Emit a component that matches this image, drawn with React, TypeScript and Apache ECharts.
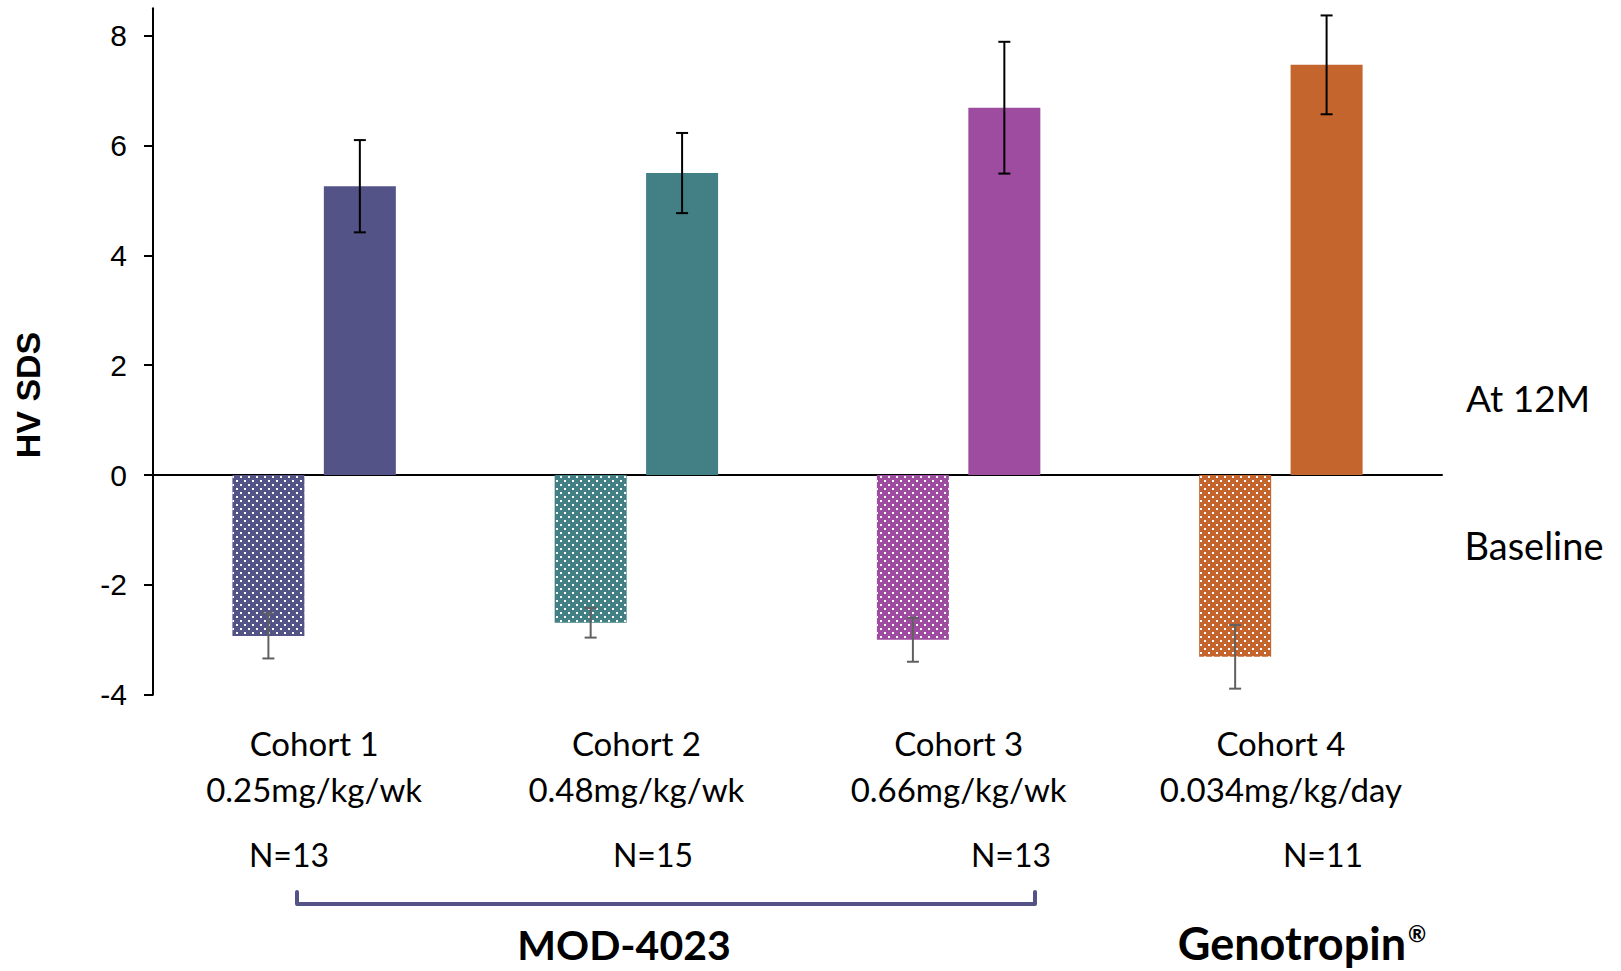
import React, { useEffect, useRef } from "react";
import * as echarts from "echarts";

const categories = [
  "Cohort 1\n0.25mg/kg/wk",
  "Cohort 2\n0.48mg/kg/wk",
  "Cohort 3\n0.66mg/kg/wk",
  "Cohort 4\n0.034mg/kg/day",
];
const baseline = [-2.93, -2.69, -3.0, -3.31];
const baselineErr = [0.41, 0.27, 0.4, 0.58];
const month12 = [5.26, 5.5, 6.69, 7.47];
const month12Err = [0.84, 0.73, 1.2, 0.9];
const cohortColors = ["#545388", "#438085", "#9D4CA0", "#C4652E"];
const yTicks = [-4, -2, 0, 2, 4, 6, 8];
const nLabels = ["N=13", "N=15", "N=13", "N=11"];

const BAR_W = 72;
const BAR_GAP = 0.27;
const LATO = "Lato, 'Noto Sans', sans-serif";
const ARIAL = "'Liberation Sans', Arial, sans-serif";

function errSeries(values: number[], errs: number[], dir: number, color: string, z: number) {
  const offset = (dir * BAR_W * (1 + BAR_GAP)) / 2;
  return {
    type: "custom",
    xAxisIndex: 0,
    yAxisIndex: 0,
    z,
    silent: true,
    data: values.map((v, i) => [i, v, errs[i]]),
    encode: { x: 0, y: 1 },
    renderItem: (params: any, api: any) => {
      const cat = api.value(0);
      const v = api.value(1);
      const e = api.value(2);
      const top = api.coord([cat, v + e]);
      const bot = api.coord([cat, v - e]);
      const x = top[0] + offset;
      const cap = 6;
      const style = { stroke: color, lineWidth: 2 };
      return {
        type: "group",
        children: [
          { type: "line", shape: { x1: x, y1: top[1], x2: x, y2: bot[1] }, style },
          { type: "line", shape: { x1: x - cap, y1: top[1], x2: x + cap, y2: top[1] }, style },
          { type: "line", shape: { x1: x - cap, y1: bot[1], x2: x + cap, y2: bot[1] }, style },
        ],
      };
    },
  };
}

export default function App() {
  const ref = useRef<HTMLDivElement>(null);
  useEffect(() => {
    if (!ref.current) return;
    const chart = echarts.init(ref.current, null, { renderer: "svg" });
    const nX = [289, 653, 1011, 1323];
    chart.setOption({
      animation: false,
      backgroundColor: "#ffffff",
      grid: { left: 153, right: 179, top: 8.3, bottom: 276.3 },
      xAxis: [
        {
          type: "category",
          data: categories,
          position: "bottom",
          axisLine: { onZero: true, lineStyle: { color: "#000", width: 2 } },
          axisTick: { show: false },
          axisLabel: { show: false },
          splitLine: { show: false },
        },
        {
          type: "category",
          data: categories,
          position: "bottom",
          axisLine: { show: false, onZero: false },
          axisTick: { show: false },
          axisLabel: {
            show: true,
            color: "#000",
            fontFamily: LATO,
            fontSize: 33,
            lineHeight: 46,
            margin: 25,
            interval: 0,
          },
        },
      ],
      yAxis: {
        type: "value",
        min: -4,
        max: 8.5,
        axisLine: { show: true, lineStyle: { color: "#000", width: 2 } },
        axisTick: { show: true, length: 9, customValues: yTicks, lineStyle: { color: "#000", width: 2 } },
        axisLabel: { customValues: yTicks, color: "#000", fontFamily: ARIAL, fontSize: 30, margin: 26 },
        splitLine: { show: false },
      },
      series: [
        {
          name: "Baseline",
          type: "bar",
          xAxisIndex: 0,
          barWidth: BAR_W,
          barGap: BAR_GAP * 100 + "%",
          data: baseline.map((v, i) => ({
            value: v,
            itemStyle: {
              color: cohortColors[i],
              decal: {
                symbol: "rect",
                symbolSize: 1,
                color: "#ffffff",
                dashArrayX: [[2, 6], [0, 4, 2, 2]],
                dashArrayY: [2, 2],
                rotation: 0,
              },
            },
          })),
        },
        {
          name: "At 12M",
          type: "bar",
          xAxisIndex: 0,
          barWidth: BAR_W,
          barGap: BAR_GAP * 100 + "%",
          data: month12.map((v, i) => ({ value: v, itemStyle: { color: cohortColors[i] } })),
        },
        errSeries(baseline, baselineErr, -1, "#606060", 10),
        errSeries(month12, month12Err, 1, "#000000", 10),
      ],
      graphic: [
        {
          type: "text",
          x: 28,
          y: 395,
          rotation: Math.PI / 2,
          style: {
            text: "HV SDS",
            fontFamily: ARIAL,
            fontWeight: "bold",
            fontSize: 34,
            fill: "#000",
            align: "center",
            verticalAlign: "middle",
          },
        },
        {
          type: "text",
          x: 1528,
          y: 397,
          style: { text: "At 12M", fontFamily: LATO, fontSize: 37, fill: "#000", align: "center", verticalAlign: "middle" },
        },
        {
          type: "text",
          x: 1534,
          y: 545,
          style: { text: "Baseline", fontFamily: LATO, fontSize: 38, fill: "#000", align: "center", verticalAlign: "middle" },
        },
        ...nLabels.map((t, i) => ({
          type: "text",
          x: nX[i],
          y: 854,
          style: { text: t, fontFamily: LATO, fontSize: 32, fill: "#000", align: "center", verticalAlign: "middle" },
        })),
        {
          type: "polyline",
          shape: { points: [[297, 892], [297, 904], [1035, 904], [1035, 892]] },
          style: { stroke: "#545388", lineWidth: 4, fill: null, lineJoin: "round", lineCap: "round" },
        },
        {
          type: "text",
          x: 624,
          y: 944,
          style: {
            text: "MOD-4023",
            fontFamily: LATO,
            fontWeight: "bold",
            fontSize: 41,
            lineHeight: 42,
            fill: "#000",
            align: "center",
            verticalAlign: "middle",
          },
        },
        {
          type: "text",
          x: 1302,
          y: 943,
          style: {
            text: "{a|Genotropin}{r|®}",
            align: "center",
            verticalAlign: "middle",
            rich: {
              a: { fontFamily: LATO, fontWeight: "bold", fontSize: 45, lineHeight: 42, fill: "#000" },
              r: { fontFamily: LATO, fontWeight: "bold", fontSize: 22, lineHeight: 42, fill: "#000", verticalAlign: "top", padding: [0, 0, 6, 2] },
            },
          },
        },
        {
          type: "text",
          x: 83,
          y: 966,
          style: { text: "Ord E", fontFamily: LATO, fontSize: 33, fill: "#000", align: "left", verticalAlign: "top" },
        },
      ],
    });
    return () => chart.dispose();
  }, []);
  return (
    <div
      ref={ref}
      style={{ position: "fixed", left: 0, top: 0, width: 1621, height: 971, background: "#fff" }}
    />
  );
}
